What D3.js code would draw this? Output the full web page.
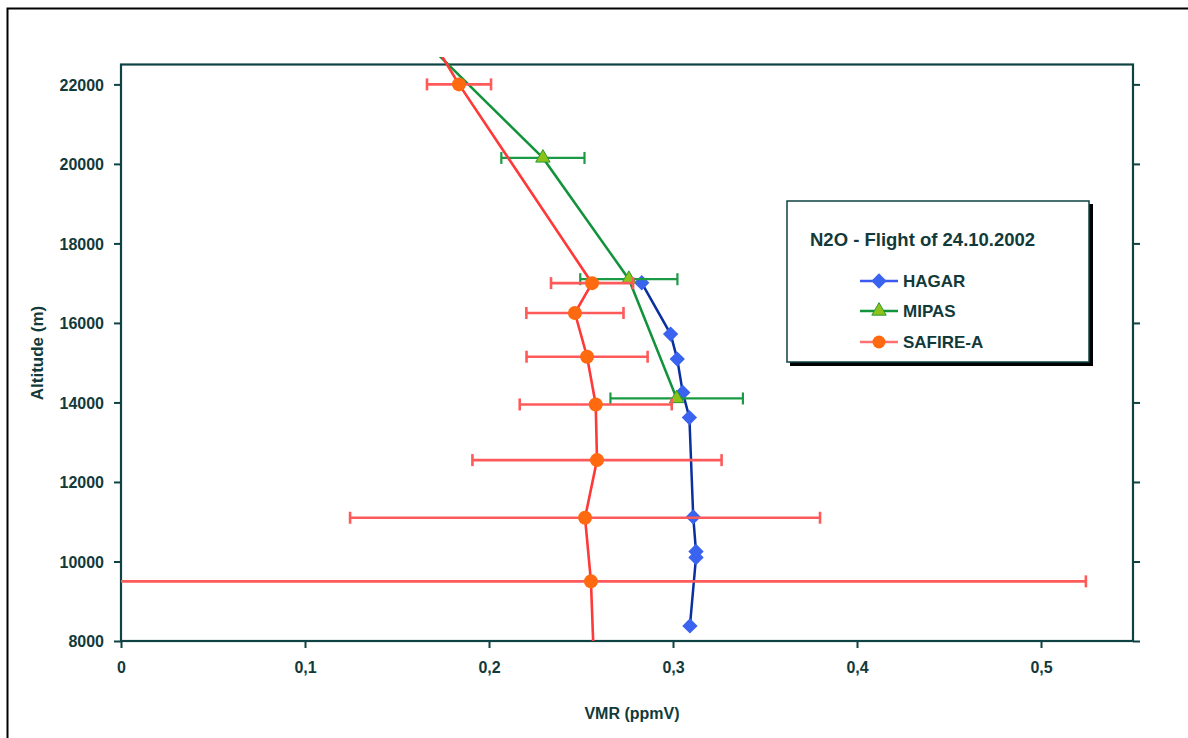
<!DOCTYPE html>
<html>
<head>
<meta charset="utf-8">
<script src="https://cdn.jsdelivr.net/npm/d3@7"></script>
<style>
  html, body { margin: 0; padding: 0; background: #fff; }
  svg { display: block; }
  text { font-family: "Liberation Sans", Arial, sans-serif; font-weight: bold; fill: #123a3a; }
</style>
</head>
<body>
<svg id="chart" width="1188" height="738"></svg>
<script>
// ---- data ----
const xTicks = [0, 0.1, 0.2, 0.3, 0.4, 0.5];
const yTicks = [8000, 10000, 12000, 14000, 16000, 18000, 20000, 22000];

const hagarAlt = [17010, 15720, 15090, 14250, 13620, 11120, 10250, 10100, 8380];
const hagarVMR = [0.283, 0.2987, 0.3023, 0.3053, 0.3089, 0.311, 0.3125, 0.3125, 0.3092];

const mipasAlt = [23200, 20150, 17100, 14100];
const mipasVMR = [0.1625, 0.2293, 0.276, 0.302];
const mipasErr = [0.02, 0.0226, 0.0264, 0.036];

const safireAlt = [23200, 22000, 17000, 16250, 15150, 13950, 12550, 11100, 9500, 7500];
const safireVMR = [0.168, 0.1837, 0.256, 0.2467, 0.2533, 0.258, 0.2587, 0.2522, 0.2554, 0.257];
const safireErr = [0.02, 0.0174, 0.0223, 0.0264, 0.0329, 0.0413, 0.0677, 0.1277, 0.269, 0.3];

const legendTitle = "N2O - Flight of 24.10.2002";
const seriesNames = ["HAGAR", "MIPAS", "SAFIRE-A"];

// ---- layout ----
const svg = d3.select("#chart");
const L = 121, R = 1133, T = 64.5, B = 641;
const axisColor = "#0f4343";

const x = d3.scaleLinear().domain([0, 0.55]).range([L, R]);
const y = d3.scaleLinear().domain([8000, 22500]).range([B, T]);

// outer frame (left + top edges visible)
svg.append("path").attr("d", `M7.5,738 L7.5,8.5 L1188,8.5`)
  .attr("fill", "none").attr("stroke", "#000").attr("stroke-width", 2);

// clip
svg.append("defs").append("clipPath").attr("id", "clip")
  .append("rect").attr("x", L).attr("y", 57).attr("width", R - L).attr("height", B - 57);

// axes
const fmt = d => d3.format(".1f")(d).replace(".", ",").replace(/^0,0$/, "0");
const xAxis = d3.axisBottom(x).tickValues(xTicks).tickSize(7).tickPadding(14)
  .tickFormat(d => d === 0 ? "0" : fmt(d));
const gx = svg.append("g").attr("transform", `translate(0,${B})`).call(xAxis);
const yAxis = d3.axisLeft(y).tickValues(yTicks).tickSize(7).tickPadding(10).tickFormat(d3.format("d"));
const gy = svg.append("g").attr("transform", `translate(${L},0)`).call(yAxis);
const yAxisR = d3.axisRight(y).tickValues(yTicks).tickSize(7).tickFormat("");
const gyr = svg.append("g").attr("transform", `translate(${R},0)`).call(yAxisR);
[gx, gy, gyr].forEach(g => {
  g.select(".domain").remove();
  g.selectAll(".tick line").attr("stroke", axisColor).attr("stroke-width", 2);
  g.selectAll(".tick text").style("font-size", "16px").attr("fill", "#123a3a");
});
gy.selectAll(".tick text").attr("dy", "0.36em");

// plot border
svg.append("rect").attr("x", L).attr("y", T).attr("width", R - L).attr("height", B - T)
  .attr("fill", "none").attr("stroke", axisColor).attr("stroke-width", 2.2);

// axis titles
svg.append("text").attr("x", 632).attr("y", 719).attr("text-anchor", "middle")
  .style("font-size", "16px").text("VMR (ppmV)");
svg.append("text").attr("transform", "translate(43,353) rotate(-90)").attr("text-anchor", "middle")
  .style("font-size", "17px").text("Altitude (m)");

// ---- series ----
const plot = svg.append("g").attr("clip-path", "url(#clip)");
const line = d3.line().x(d => x(d[0])).y(d => y(d[1]));

function errorBars(g, vmr, alt, err, color, width) {
  vmr.forEach((v, i) => {
    const yy = y(alt[i]), x0 = x(v - err[i]), x1 = x(v + err[i]);
    g.append("line").attr("x1", x0).attr("x2", x1).attr("y1", yy).attr("y2", yy)
      .attr("stroke", color).attr("stroke-width", width);
    [x0, x1].forEach(xx => g.append("line").attr("x1", xx).attr("x2", xx)
      .attr("y1", yy - 6).attr("y2", yy + 6).attr("stroke", color).attr("stroke-width", width));
  });
}

// HAGAR
const hag = plot.append("g");
hag.append("path").datum(hagarVMR.map((v, i) => [v, hagarAlt[i]])).attr("d", line)
  .attr("fill", "none").attr("stroke", "#0a2f9e").attr("stroke-width", 2.5);
hag.selectAll("path.m").data(hagarVMR).join("path").attr("class", "m")
  .attr("transform", (v, i) => `translate(${x(v)},${y(hagarAlt[i])})`)
  .attr("d", d3.symbol(d3.symbolDiamond2, 150)())
  .attr("fill", "#3a63f0");

// MIPAS
const mip = plot.append("g");
errorBars(mip, mipasVMR, mipasAlt, mipasErr, "#1a9a45", 2.2);
mip.append("path").datum(mipasVMR.map((v, i) => [v, mipasAlt[i]])).attr("d", line)
  .attr("fill", "none").attr("stroke", "#12923a").attr("stroke-width", 2.5);
mip.selectAll("path.m").data(mipasVMR).join("path").attr("class", "m")
  .attr("transform", (v, i) => `translate(${x(v)},${y(mipasAlt[i])})`)
  .attr("d", d3.symbol(d3.symbolTriangle, 90)())
  .attr("fill", "#8cc21a").attr("stroke", "#2a9a30").attr("stroke-width", 1);

// SAFIRE-A
const saf = plot.append("g");
errorBars(saf, safireVMR, safireAlt, safireErr, "#ff5a5a", 2.6);
saf.append("path").datum(safireVMR.map((v, i) => [v, safireAlt[i]])).attr("d", line)
  .attr("fill", "none").attr("stroke", "#ff3838").attr("stroke-width", 2.6);
saf.selectAll("circle").data(safireVMR).join("circle")
  .attr("cx", v => x(v)).attr("cy", (v, i) => y(safireAlt[i])).attr("r", 7)
  .attr("fill", "#ff6a10");

// ---- legend ----
const lg = svg.append("g");
lg.append("rect").attr("x", 790).attr("y", 204).attr("width", 303).attr("height", 162).attr("fill", "#000");
lg.append("rect").attr("x", 787).attr("y", 201).attr("width", 302).attr("height", 161)
  .attr("fill", "#fff").attr("stroke", axisColor).attr("stroke-width", 1.5);
lg.append("text").attr("x", 810).attr("y", 246).style("font-size", "18.5px").text(legendTitle);
const ly = [281, 311, 342];
const lcol = ["#3a5af0", "#12923a", "#ff7070"];
ly.forEach((yy, i) => {
  lg.append("line").attr("x1", 860).attr("x2", 898).attr("y1", yy).attr("y2", yy)
    .attr("stroke", lcol[i]).attr("stroke-width", 2.5);
  lg.append("text").attr("x", 903).attr("y", yy + 6).style("font-size", "17px").text(seriesNames[i]);
});
lg.append("path").attr("transform", `translate(879,${ly[0]})`).attr("d", d3.symbol(d3.symbolDiamond2, 150)()).attr("fill", "#3a63f0");
lg.append("path").attr("transform", `translate(879,${ly[1]})`).attr("d", d3.symbol(d3.symbolTriangle, 90)())
  .attr("fill", "#8cc21a").attr("stroke", "#2a9a30");
lg.append("circle").attr("cx", 879).attr("cy", ly[2]).attr("r", 6.5).attr("fill", "#ff6a10");
</script>
</body>
</html>
